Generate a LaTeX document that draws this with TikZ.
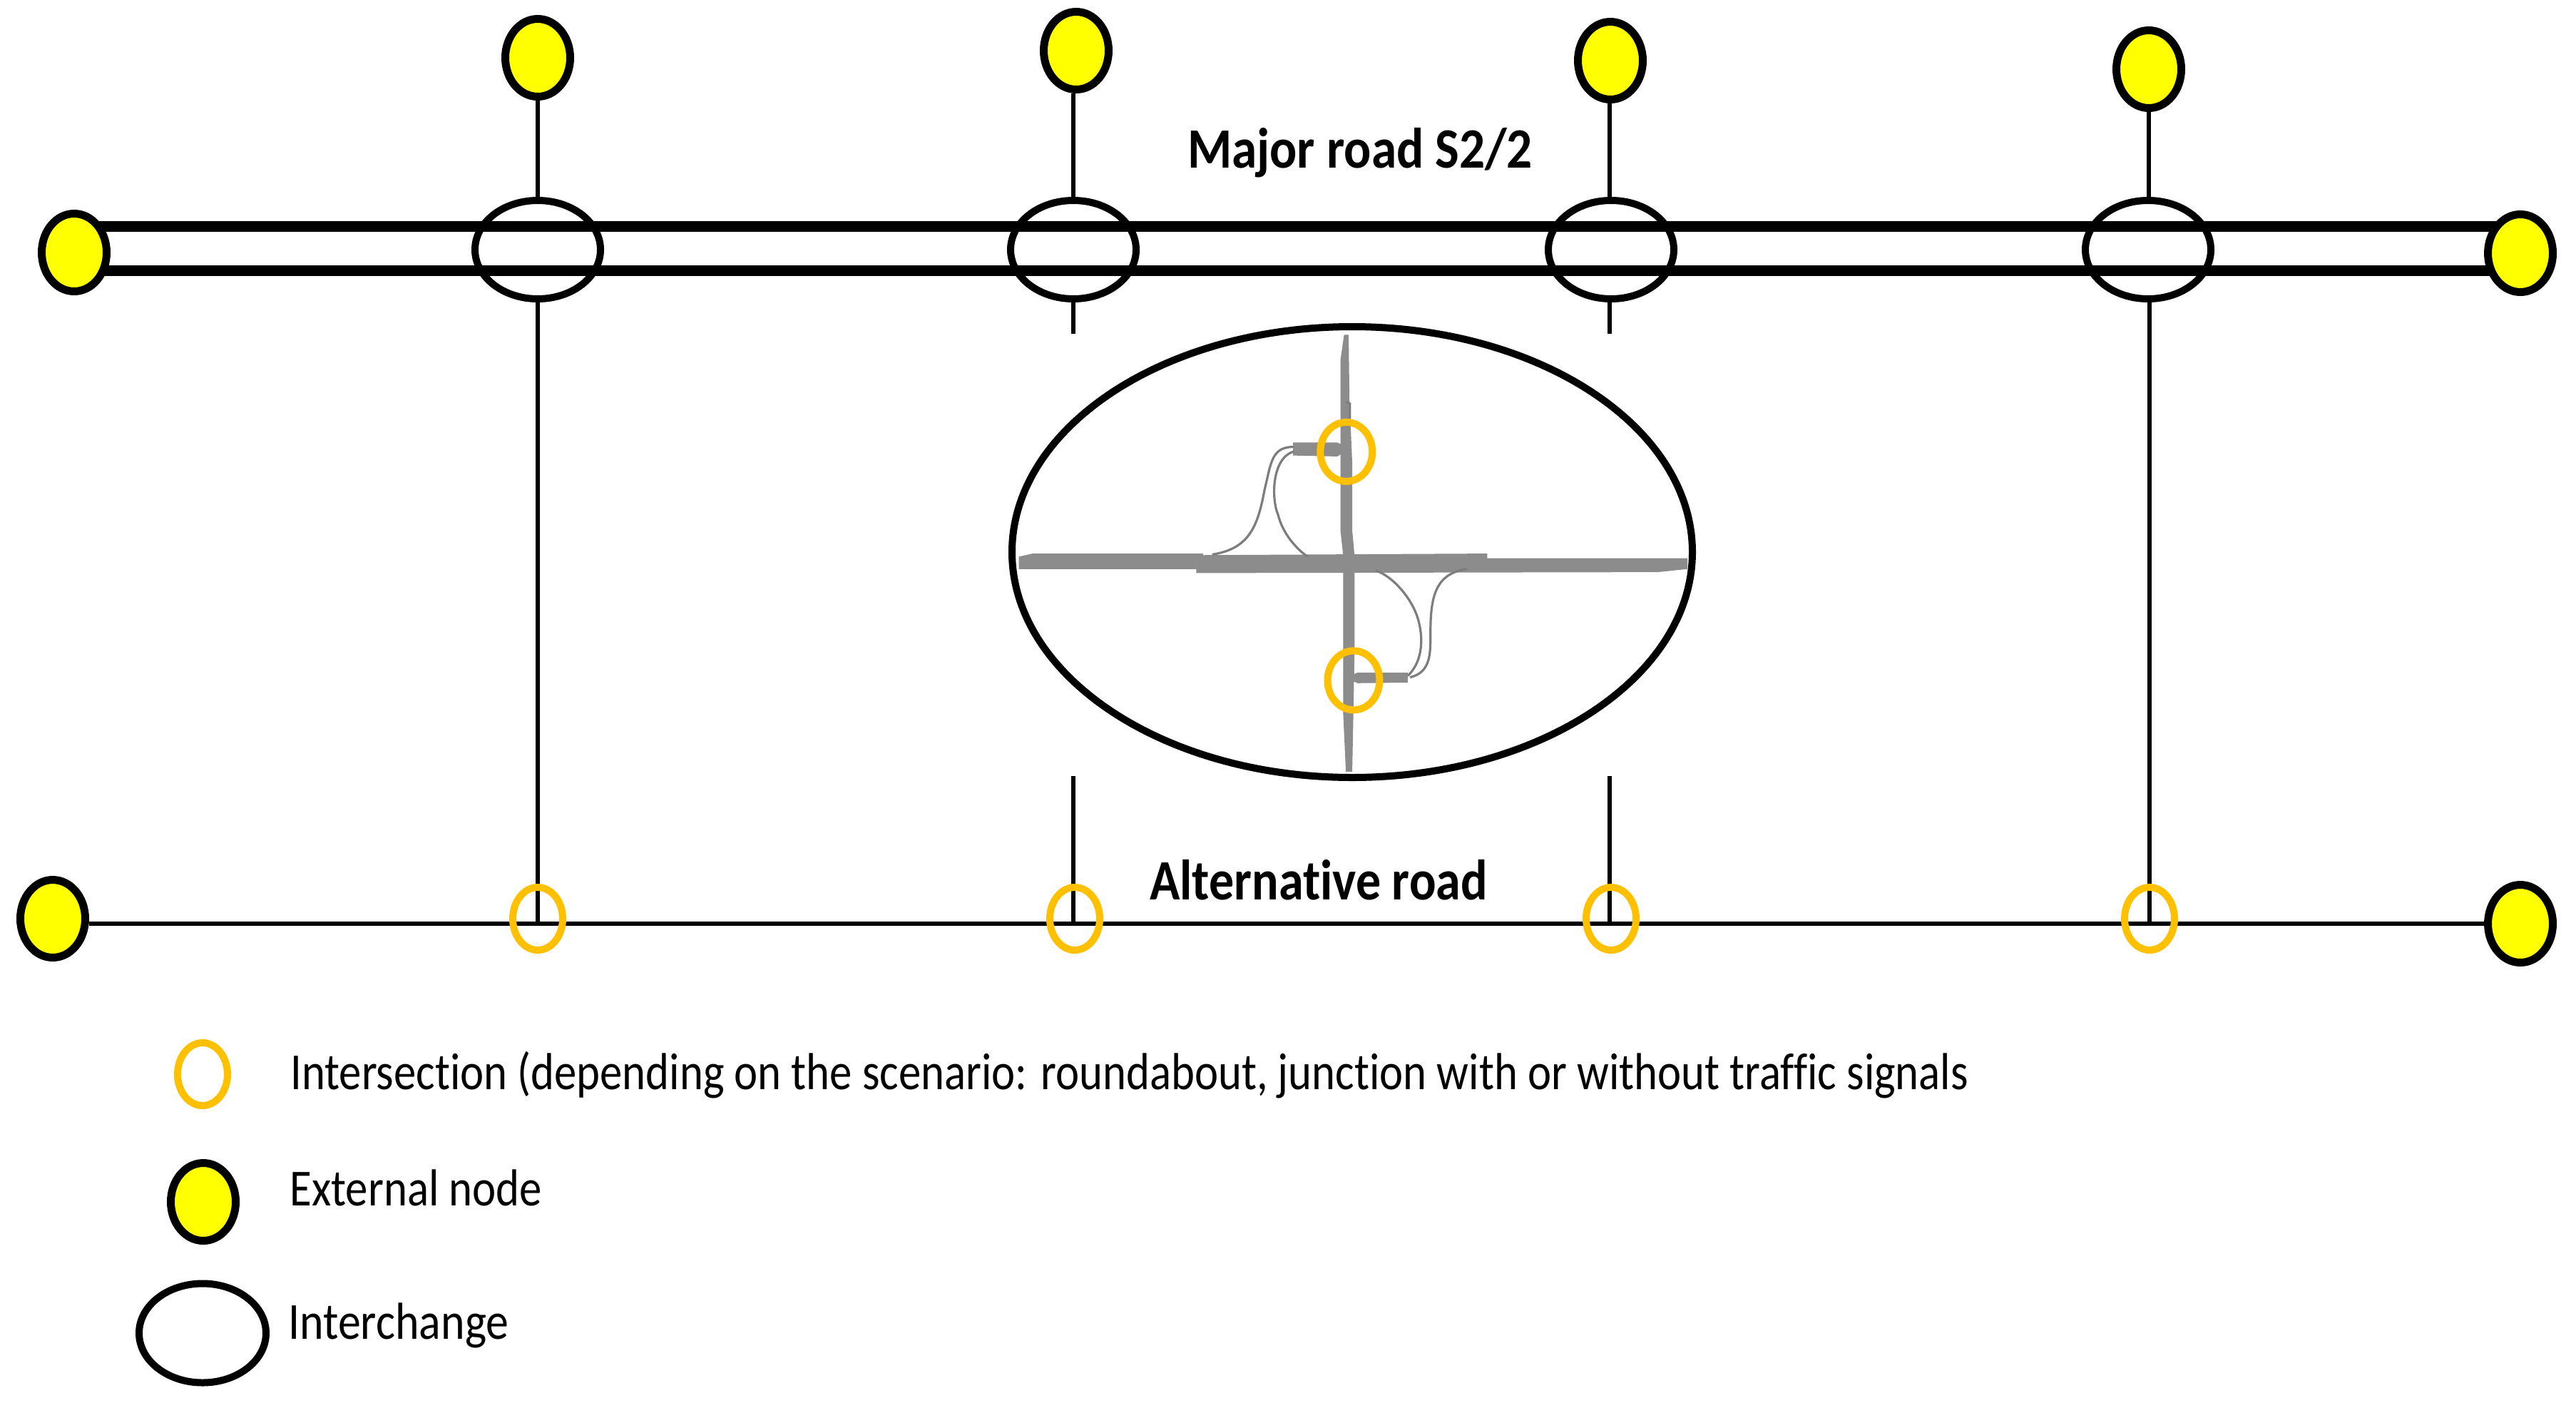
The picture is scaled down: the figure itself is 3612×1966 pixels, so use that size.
\documentclass[tikz,border=0pt]{standalone}
\usepackage{fontspec}
\usepackage{graphicx}
\setmainfont[Ligatures=NoCommon]{Carlito}
\usetikzlibrary{shapes.geometric}
\definecolor{ringc}{RGB}{255,192,0}
\definecolor{roadg}{RGB}{140,140,140}
\definecolor{rampc}{RGB}{125,125,125}
\definecolor{nodey}{RGB}{255,255,0}
\tikzset{
  x=0.5pt,y=-0.5pt,
  extnode/.style={ellipse,draw=black,line width=5.5pt,fill=nodey,minimum width=45.5pt,minimum height=54.5pt,inner sep=0pt},
  interch/.style={ellipse,draw=black,line width=5pt,minimum width=88pt,minimum height=69pt,inner sep=0pt},
  ring/.style={ellipse,draw=ringc,line width=5pt,minimum width=35pt,minimum height=44pt,inner sep=0pt},
  dring/.style={ring,minimum width=36.5pt,minimum height=41.5pt},
  major/.style={line width=7.5pt,black},
  thin line/.style={line width=2.6pt,black},
  road/.style={line width=2.6pt,black},
  label/.style={font=\bfseries\fontsize{40}{40}\selectfont,inner sep=0pt,anchor=base},
  legend/.style={font=\fontsize{36.5}{36.5}\selectfont,inner sep=0pt,anchor=base west},
  rampg/.style={draw=rampc,line width=1.6pt},
}
\begin{document}
\begin{tikzpicture}
\useasboundingbox (0,0) rectangle (3612,1966);
% coordinates
\coordinate (ML1) at (104,317); \coordinate (MR1) at (3534,317);
\coordinate (ML2) at (104,379); \coordinate (MR2) at (3534,379);
\draw[major] (ML1)--(MR1);
\draw[major] (ML2)--(MR2);
% interchanges
\node[interch] (i1) at (754,350) {};
\node[interch] (i2) at (1505,350) {};
\node[interch] (i3) at (2259,350) {};
\node[interch] (i4) at (3012,350) {};
% top external
\node[extnode] (t1) at (754,81) {};
\node[extnode] (t2) at (1509,71) {};
\node[extnode] (t3) at (2258,85) {};
\node[extnode] (t4) at (3013,97) {};
% end external
\node[extnode] (el1) at (104,354) {};
\node[extnode] (el2) at (3534,355) {};
\node[extnode] (al) at (74,1288) {};
\node[extnode] (ar) at (3534,1295) {};
% alt road
\draw[road] (al.east |- ar) -- (ar);
% connectors
\coordinate (c1) at (754,1296); \coordinate (c4) at (3014,1296);
\coordinate (c2a) at (1505,468); \coordinate (c3a) at (2257,468);
\coordinate (c2b) at (1505,1088); \coordinate (c3b) at (2257,1088);
\coordinate (c2c) at (1505,1296); \coordinate (c3c) at (2257,1296);
\draw[thin line] (t1) -- (i1);
\draw[thin line] (i2.north |- t2.south) -- (i2.north);
\draw[thin line] (c3a |- t3.south) -- (c3a |- i3.north);
\draw[thin line] (t4) -- (t4 |- i4.north);
\draw[thin line] (i1.south) -- (c1);
\draw[thin line] (c4 |- i4.south) -- (c4);
\draw[thin line] (i2.south) -- (c2a);
\draw[thin line] (c3a |- i3.south) -- (c3a);
\draw[thin line] (c2b) -- (c2c);
\draw[thin line] (c3b) -- (c3c);
% rings
\node[ring] (r1) at (754,1288) {};
\node[ring] (r2) at (1507,1288) {};
\node[ring] (r3) at (2259,1288) {};
\node[ring] (r4) at (3014,1288) {};
% detail
\node[ellipse,draw=black,line width=5pt,minimum width=477pt,minimum height=316pt,inner sep=0pt] (detail) at (1896,774) {};
\begin{scope}[shift={(1400,440)},x=0.5pt/1.568,y=-0.5pt/2.306]
 \fill[roadg] (45,785) -- (75,775) -- (450,775) -- (450,780) -- (1075,775) -- (1075,790) -- (1515,790) -- (1515,825) -- (1450,835) -- (435,838) -- (435,825) -- (45,825) -- cycle;
 \fill[roadg] (760,68) -- (770,68) -- (772,280) -- (778,480) -- (778,700) -- (783,780) -- (783,1100) -- (778,1480) -- (764,1480) -- (758,1290) -- (758,780) -- (752,700) -- (752,150) -- cycle;
 \fill[roadg] (648,416) -- (745,416) -- (775,435) -- (745,461) -- (648,458) -- cycle;
 \fill[roadg] (790,1160) -- (900,1160) -- (900,1192) -- (790,1194) -- (760,1175) -- cycle;
 \draw[rampg] (650,430) .. controls (600,430) and (600,480) .. (585,570) .. controls (570,690) and (550,760) .. (470,778);
 \draw[rampg] (650,445) .. controls (600,465) and (600,600) .. (615,650) .. controls (625,710) and (655,760) .. (680,785);
 \draw[rampg] (900,1170) .. controls (930,1130) and (935,1060) .. (925,1000) .. controls (915,930) and (870,850) .. (830,830);
 \draw[rampg] (905,1175) .. controls (950,1160) and (950,1100) .. (950,1040) .. controls (950,930) and (955,840) .. (1030,825);
 \draw[rampg] (765,285) -- (773,290) -- (773,340);
 \node[dring] (d1) at (765,446) {};
 \node[dring] (d2) at (781,1185) {};
\end{scope}
% labels
\node[label] (mj) at (1907,235) {\scalebox{.89}[1]{Major road S2/2}};
\node[label] (alt) at (1849,1261) {\scalebox{.875}[1]{Alternative road}};
% legend
\node[ring] (lr) at (284,1506) {};
\node[extnode] (le) at (285,1685) {};
\node[interch,minimum width=89pt,minimum height=69.5pt] (li) at (284,1869) {};
\node[legend] (lt1) at (407,1527) {\scalebox{.859}[1]{Intersection (depending on the scenario: roundabout, junction with or without traffic signals}};
\node[legend] (lt2) at (406,1690) {\scalebox{.861}[1]{External node}};
\node[legend] (lt3) at (404,1877) {\scalebox{.875}[1]{Interchange}};
\end{tikzpicture}
\end{document}
